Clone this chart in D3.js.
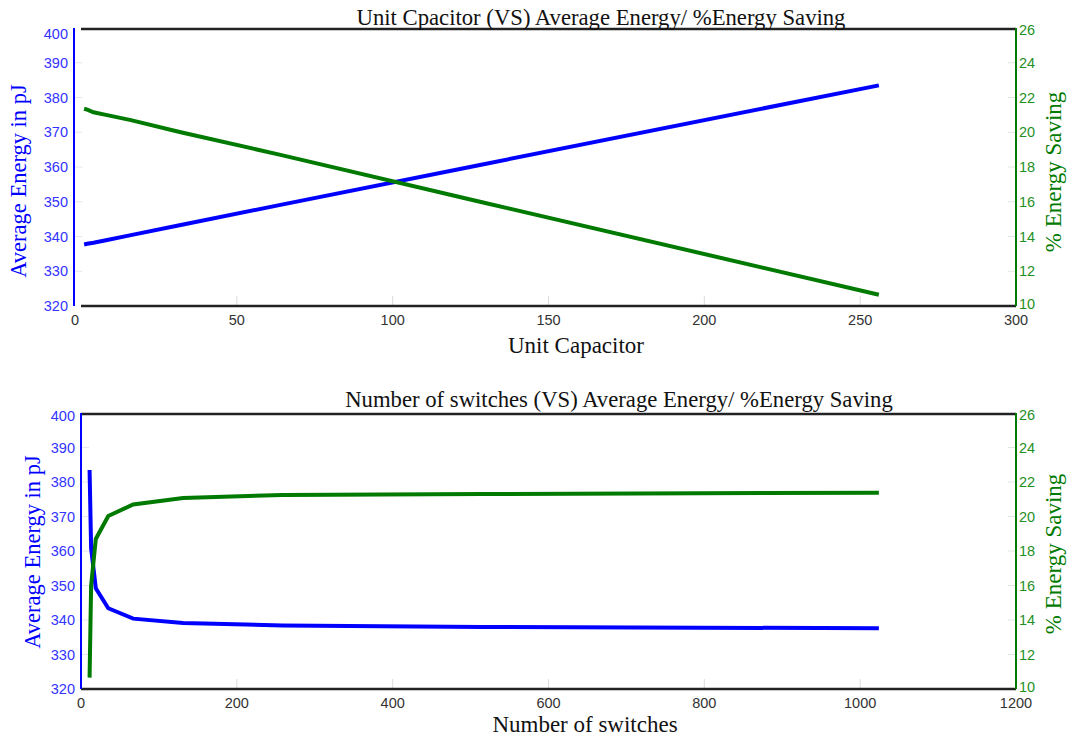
<!DOCTYPE html>
<html>
<head>
<meta charset="utf-8">
<script src="https://cdn.jsdelivr.net/npm/d3@7"></script>
<style>
body { margin: 0; background: #fff; }
</style>
</head>
<body>
<div id="chart"></div>
<script>
// top panel: unit capacitor
var unitCap = [1, 2, 4, 8, 16, 32, 64, 128, 256];
var unitEnergy = [337.7, 337.9, 338.2, 338.9, 340.4, 343.3, 349.1, 360.6, 383.5];
var unitSaving = [21.35, 21.3, 21.15, 21.0, 20.7, 20.0, 18.7, 16.0, 10.65];

// bottom panel: number of switches
var switches = [11, 13, 19, 35, 67, 131, 259, 515, 1024];
var switchEnergy = [383.5, 360.8, 349.2, 343.4, 340.4, 339.1, 338.4, 338.0, 337.6];
var switchSaving = [10.66, 16.0, 18.7, 20.03, 20.7, 21.07, 21.25, 21.3, 21.38];

var energyTicks = [320, 330, 340, 350, 360, 370, 380, 390, 400];
var savingTicks = [10, 12, 14, 16, 18, 20, 22, 24, 26];
var unitTicks = [0, 50, 100, 150, 200, 250, 300];
var switchTicks = [0, 200, 400, 600, 800, 1000, 1200];

var W = 1070, H = 738;
var svg = d3.select("#chart").append("svg")
    .attr("width", W)
    .attr("height", H);

var blue = "#0000ff", green = "#007a00";
var serif = "'Liberation Serif', 'Times New Roman', serif";
var sans = "'Liberation Sans', Arial, sans-serif";

function drawPanel(p) {
    var x = d3.scaleLinear().domain([p.xTicks[0], p.xTicks[p.xTicks.length - 1]]).range([p.left, p.right]);
    var yE = d3.scaleLinear().domain([320, 400]).range([p.bottom, p.top]);
    var yS = d3.scaleLinear().domain([10, 26]).range([p.bottom, p.top]);
    var g = svg.append("g");

    // light inner ticks
    g.selectAll(".xt").data(p.xTicks.slice(1, -1)).enter().append("line")
        .attr("x1", function(d) { return x(d); })
        .attr("x2", function(d) { return x(d); })
        .attr("y1", p.bottom)
        .attr("y2", p.bottom - 10)
        .style("stroke", "#dcdcdc");
    g.selectAll(".lt").data(energyTicks.slice(1, -1)).enter().append("line")
        .attr("x1", p.yAxisX)
        .attr("x2", p.yAxisX + 8)
        .attr("y1", function(d) { return yE(d); })
        .attr("y2", function(d) { return yE(d); })
        .style("stroke", "#e4e4f4");
    g.selectAll(".rt").data(savingTicks.slice(1, -1)).enter().append("line")
        .attr("x1", p.right)
        .attr("x2", p.right - 8)
        .attr("y1", function(d) { return yS(d); })
        .attr("y2", function(d) { return yS(d); })
        .style("stroke", "#dde8dd");

    // frame
    g.append("line").attr("x1", p.left).attr("x2", p.right).attr("y1", p.top + 1).attr("y2", p.top + 1)
        .style("stroke", "#222").style("stroke-width", 2.5);
    g.append("line").attr("x1", p.left).attr("x2", p.right).attr("y1", p.bottom).attr("y2", p.bottom)
        .style("stroke", "#222").style("stroke-width", 2.5);
    g.append("line").attr("x1", p.yAxisX).attr("x2", p.yAxisX).attr("y1", p.top).attr("y2", p.bottom)
        .style("stroke", blue).style("stroke-width", 2);
    g.append("line").attr("x1", p.right).attr("x2", p.right).attr("y1", p.top).attr("y2", p.bottom)
        .style("stroke", green).style("stroke-width", 2);

    // tick labels
    g.selectAll(".xl").data(p.xTicks).enter().append("text")
        .attr("x", function(d) { return d === 0 ? x(d) - p.zeroShift : x(d); })
        .attr("y", p.bottom + 14)
        .attr("dy", ".35em")
        .attr("text-anchor", "middle")
        .style("font-family", sans).style("font-size", "14.5px").style("fill", "#333")
        .text(function(d) { return d; });
    g.selectAll(".yl").data(energyTicks).enter().append("text")
        .attr("x", p.yAxisX - 6)
        .attr("y", function(d) { return d === 400 ? yE(d) + p.topShift : yE(d); })
        .attr("dy", ".35em")
        .attr("text-anchor", "end")
        .style("font-family", sans).style("font-size", "14.5px").style("fill", "#3333ff")
        .text(function(d) { return d; });
    g.selectAll(".sl").data(savingTicks).enter().append("text")
        .attr("x", p.right + 3)
        .attr("y", function(d) { return d === 26 ? yS(d) + 2 : (d === 10 ? yS(d) - 2 : yS(d)); })
        .attr("dy", ".35em")
        .style("font-family", sans).style("font-size", "14.5px").style("fill", "#1f8f1f")
        .text(function(d) { return d; });

    // lines
    var pts = p.xs.map(function(v, i) { return [v, p.energy[i], p.saving[i]]; });
    g.append("path").datum(pts)
        .attr("d", d3.line().x(function(d) { return x(d[0]); }).y(function(d) { return yE(d[1]); }))
        .style("fill", "none").style("stroke", blue).style("stroke-width", 4);
    g.append("path").datum(pts)
        .attr("d", d3.line().x(function(d) { return x(d[0]); }).y(function(d) { return yS(d[2]); }))
        .style("fill", "none").style("stroke", green).style("stroke-width", 4);

    // titles
    g.append("text").attr("x", p.titleX).attr("y", p.titleY)
        .attr("text-anchor", "middle")
        .style("font-family", serif).style("font-size", "22.7px").style("fill", "#111")
        .text(p.title);
    g.append("text").attr("x", p.xLabelX).attr("y", p.xLabelY)
        .attr("text-anchor", "middle")
        .style("font-family", serif).style("font-size", "23px").style("fill", "#111")
        .text(p.xLabel);
    g.append("text")
        .attr("transform", "translate(" + p.leftLabelX + "," + p.leftLabelY + ") rotate(-90)")
        .attr("text-anchor", "middle")
        .style("font-family", serif).style("font-size", "22.5px").style("fill", blue)
        .text("Average Energy in pJ");
    g.append("text")
        .attr("transform", "translate(" + p.rightLabelX + "," + p.rightLabelY + ") rotate(-90)")
        .attr("text-anchor", "middle")
        .style("font-family", serif).style("font-size", "23px").style("fill", green)
        .text("% Energy Saving");
}

drawPanel({
    top: 28, bottom: 306, left: 81, right: 1016, yAxisX: 74,
    xTicks: unitTicks, xs: unitCap, energy: unitEnergy, saving: unitSaving,
    zeroShift: 6, topShift: 6,
    title: "Unit Cpacitor (VS) Average Energy/ %Energy Saving", titleX: 601, titleY: 25,
    xLabel: "Unit Capacitor", xLabelX: 576, xLabelY: 353,
    leftLabelX: 26, leftLabelY: 181, rightLabelX: 1061, rightLabelY: 172
});

drawPanel({
    top: 413, bottom: 689, left: 81, right: 1016, yAxisX: 81,
    xTicks: switchTicks, xs: switches, energy: switchEnergy, saving: switchSaving,
    zeroShift: 0, topShift: 3,
    title: "Number of switches (VS) Average Energy/ %Energy Saving", titleX: 619, titleY: 407,
    xLabel: "Number of switches", xLabelX: 585, xLabelY: 732,
    leftLabelX: 40, leftLabelY: 552, rightLabelX: 1061, rightLabelY: 554
});
</script>
</body>
</html>
